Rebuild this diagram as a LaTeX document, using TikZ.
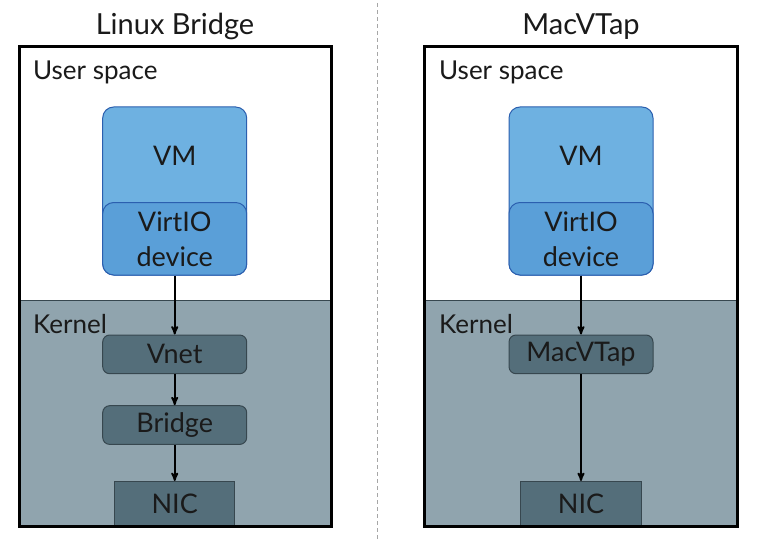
\documentclass[tikz,border=0pt]{standalone}
\usepackage{fontspec}
\setmainfont{Lato}
\usepackage{tikz}
\usetikzlibrary{arrows,positioning}

\definecolor{vmblue}{HTML}{6EB1E1}
\definecolor{ioblue}{HTML}{5A9FD8}
\definecolor{edgeblue}{HTML}{2B5FAF}
\definecolor{kernelgray}{HTML}{90A4AE}
\definecolor{kboxgray}{HTML}{546E7A}
\definecolor{kedge}{HTML}{37474F}
\definecolor{textdark}{HTML}{1A1A1A}

\newcommand{\titlefont}{\fontsize{29}{34}\selectfont}
\newcommand{\bigfont}{\fontsize{27}{35}\selectfont}
\newcommand{\midfont}{\fontsize{26}{30}\selectfont}

\tikzset{
    vmbox/.style   ={draw=edgeblue, fill=vmblue, line width=1pt, rounded corners=11pt,
                     minimum width=144pt, minimum height=168pt, inner sep=0pt},
    iobox/.style   ={draw=edgeblue, fill=ioblue, line width=1pt, rounded corners=11pt,
                     minimum width=144pt, minimum height=72.5pt, inner sep=0pt, align=center,
                     font=\bigfont, text=textdark},
    kbox/.style    ={draw=kedge, fill=kboxgray, line width=1pt, rounded corners=7pt,
                     minimum width=144pt, minimum height=38.7pt, inner sep=0pt,
                     font=\bigfont, text=textdark},
    nicbox/.style  ={draw=kedge, fill=kboxgray, line width=1pt,
                     minimum width=120.5pt, minimum height=44pt, inner sep=0pt,
                     font=\bigfont, text=textdark},
    lbl/.style     ={inner sep=0pt, font=\bigfont, text=textdark},
    titlelbl/.style={inner sep=0pt, font=\titlefont, text=textdark, anchor=base},
    arealbl/.style ={inner sep=0pt, font=\midfont, text=textdark, anchor=base west},
    panel/.style   ={draw=black, line width=3pt},
    flow/.style    ={->, draw=black, line width=1.8pt},
}

\begin{document}
\begin{tikzpicture}[x=1pt, y=-1pt, >=stealth']
    \useasboundingbox (0,0) rectangle (759,548);

    % Panels
    \fill [white]      (19,47)   rectangle (331,300.7);
    \fill [kernelgray] (19,300.7) rectangle (331,526);
    \fill [white]      (424,47)  rectangle (737,300.7);
    \fill [kernelgray] (424,300.7) rectangle (737,526);
    \draw [kedge, line width=0.8pt] (19,300.7) -- (331,300.7);
    \draw [kedge, line width=0.8pt] (424,300.7) -- (737,300.7);

    % Divider
    \draw [gray!70, line width=1.3pt, dash pattern=on 4pt off 3pt] (377.5,3) -- (377.5,540);

    % Titles and area labels
    \node [titlelbl] (ltitle) at (175,35)  {Linux Bridge};
    \node [titlelbl] (rtitle) at (581,35)  {MacVTap};
    \node [arealbl] (luser)   at (33,80)   {User space};
    \node [arealbl] (lkernel) at (33,333)  {Kernel};
    \node [arealbl] (ruser)   at (439,80)  {User space};
    \node [arealbl] (rkernel) at (439,333) {Kernel};

    % Nodes: Linux Bridge
    \node [vmbox]  (lvm)     at (174.7,191) {};
    \node [lbl, anchor=base] (lvmtext) at (174.7,165.7) {VM};
    \node [iobox, anchor=south] (lio) at (lvm.south) {VirtIO\\device};
    \node [kbox]   (lvnet)   [below=59pt of lio]   {Vnet};
    \node [kbox]   (lbridge) [below=31pt of lvnet] {Bridge};
    \node [nicbox, anchor=south] (lnic) at (174.7,526) {NIC};

    % Nodes: MacVTap
    \node [vmbox]  (rvm)     at (581,191) {};
    \node [lbl, anchor=base] (rvmtext) at (581,165.7) {VM};
    \node [iobox, anchor=south] (rio) at (rvm.south) {VirtIO\\device};
    \node [kbox]   (rtap)    [below=59pt of rio]   {MacVTap};
    \node [nicbox, anchor=south] (rnic) at (581,526) {NIC};

    % Paths
    \path (lio)     edge [flow] (lvnet);
    \path (lvnet)   edge [flow] (lbridge);
    \path (lbridge) edge [flow] (lnic);
    \path (rio)     edge [flow] (rtap);
    \path (rtap)    edge [flow] (rnic);

    % Outer borders
    \draw [panel] (19,47)  rectangle (331,526);
    \draw [panel] (424,47) rectangle (737,526);
\end{tikzpicture}
\end{document}
